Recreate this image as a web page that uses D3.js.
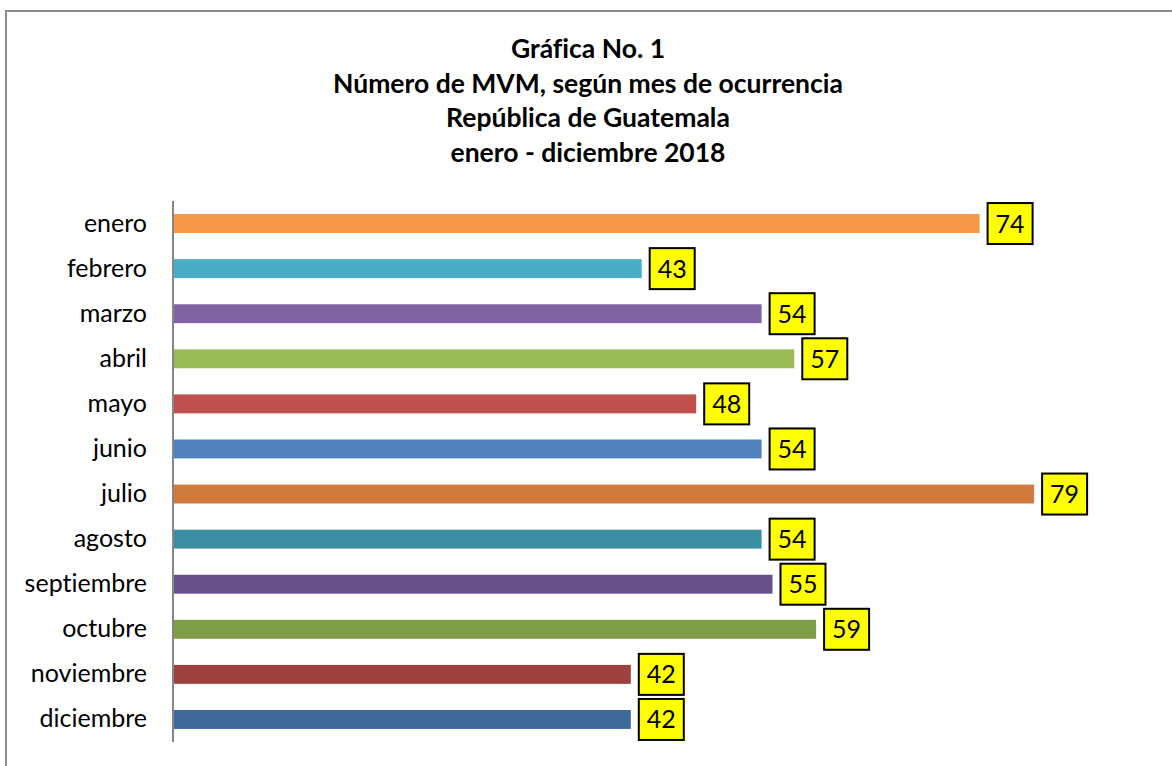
<!DOCTYPE html>
<html>
<head>
<meta charset="utf-8">
<script src="https://cdn.jsdelivr.net/npm/d3@7"></script>
<style>
  body { margin: 0; background: #fff; }
  svg { display: block; font-family: Lato, "Open Sans", sans-serif; font-variant-ligatures: none; }
</style>
</head>
<body>
<div id="chart"></div>
<script>
// data
let months = ["enero", "febrero", "marzo", "abril", "mayo", "junio", "julio",
              "agosto", "septiembre", "octubre", "noviembre", "diciembre"];
let counts = [74, 43, 54, 57, 48, 54, 79, 54, 55, 59, 42, 42];
let colors = ["#F79646", "#4BACC6", "#8064A2", "#9BBB59", "#C0504D", "#4F81BD",
              "#D07B3B", "#3B8EA2", "#67518A", "#7F9C47", "#9E413E", "#3F6A9B"];
let titleLines = ["Gráfica No. 1",
                  "Número de MVM, según mes de ocurrencia",
                  "República de Guatemala",
                  "enero - diciembre 2018"];

let width = 1172, height = 766;
let margin = {top: 201, right: 127, bottom: 24, left: 173};

let svg = d3.select("#chart")
    .append("svg")
    .attr("width", width)
    .attr("height", height);

// chart frame (only top and left visible in the crop)
svg.append("rect")
    .attr("x", 6).attr("y", 11)
    .attr("width", width + 20).attr("height", height + 20)
    .attr("fill", "none")
    .attr("stroke", "#8c8c8c")
    .attr("stroke-width", 2);

// title
svg.append("g")
    .selectAll("text")
    .data(titleLines)
    .enter().append("text")
    .attr("x", 588)
    .attr("y", (d, i) => 58 + i * 34.5)
    .attr("text-anchor", "middle")
    .attr("font-weight", "bold")
    .attr("font-size", 26.5)
    .attr("fill", "#000")
    .text(d => d);

let x = d3.scaleLinear()
    .domain([0, 80])
    .range([margin.left, width - margin.right]);

let y = d3.scaleBand()
    .domain(months)
    .range([margin.top, height - margin.bottom])
    .paddingInner(0.58)
    .paddingOuter(0.29);

// bars
svg.append("g")
    .selectAll("rect")
    .data(months)
    .enter().append("rect")
    .attr("x", x(0))
    .attr("y", d => y(d))
    .attr("width", (d, i) => x(counts[i]) - x(0))
    .attr("height", y.bandwidth())
    .attr("fill", (d, i) => colors[i]);

// category axis
let yAxis = svg.append("g")
    .attr("transform", "translate(" + x(0) + ",0)")
    .call(d3.axisLeft(y).tickSize(0).tickPadding(26));
yAxis.select(".domain")
    .attr("d", "M0," + margin.top + "V" + (height - margin.bottom))
    .attr("stroke", "#868686")
    .attr("stroke-width", 2);
yAxis.selectAll("text")
    .attr("font-family", "Lato, 'Open Sans', sans-serif")
    .attr("font-size", 25)
    .attr("fill", "#000");

// value labels in yellow boxes
let boxW = 45, boxH = 41;
let labels = svg.append("g")
    .selectAll("g")
    .data(months)
    .enter().append("g")
    .attr("transform", (d, i) => "translate(" + (x(counts[i]) + 8) + "," + (y(d) + y.bandwidth() / 2) + ")");

labels.append("rect")
    .attr("x", 0)
    .attr("y", -boxH / 2)
    .attr("width", boxW)
    .attr("height", boxH)
    .attr("fill", "#ffff00")
    .attr("stroke", "#000")
    .attr("stroke-width", 2);

labels.append("text")
    .attr("x", boxW / 2)
    .attr("dy", "0.36em")
    .attr("text-anchor", "middle")
    .attr("font-size", 25)
    .attr("fill", "#000")
    .text((d, i) => counts[i]);
</script>
</body>
</html>
